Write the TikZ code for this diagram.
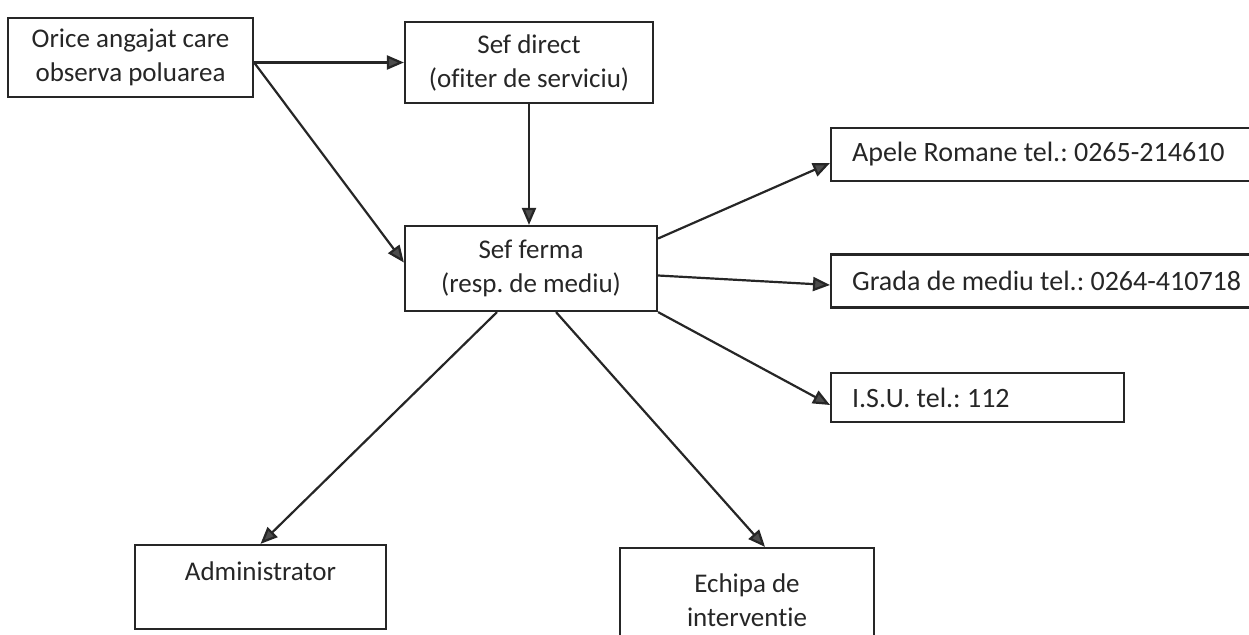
\documentclass[tikz,border=0pt]{standalone}
\usepackage{fontspec}
\setmainfont{Carlito}[Ligatures={NoCommon}]
\usetikzlibrary{arrows.meta}
\newcommand{\telline}[2]{\makebox[#1][l]{#2}}
\begin{document}
\frenchspacing
\begin{tikzpicture}[x=1pt,y=-1pt,
  box/.style={draw=black!85, line width=2.2pt, inner sep=0pt, align=center,
    font=\fontsize{27}{34}\selectfont, text=black!85},
  telbox/.style={box, anchor=west, inner xsep=21pt, minimum height=53pt,
    font=\fontsize{28}{34}\selectfont},
  arr/.style={draw=black!85, line width=2.2pt, -{Triangle[length=17pt,width=14pt,fill=black!70]}}]
\useasboundingbox (0,0) rectangle (1249,634);
\clip (0,0) rectangle (1249,634);
\node[box, minimum width=245pt, minimum height=79pt] (b1) at (130.5,57.5) {Orice angajat care\\observa poluarea};
\node[box, minimum width=248pt, minimum height=81pt] (b2) at (529,62.5) {Sef direct\\(ofiter de serviciu)};
\node[box, minimum width=252pt, minimum height=85pt] (b3) at (531,268.5) {Sef ferma\\(resp. de mediu)};
\node[telbox] (ap) at (830,154.5) {\telline{400pt}{Apele Romane tel.: 0265-214610}};
\node[telbox] (gr) at (830,281) {\telline{400pt}{Grada de mediu tel.: 0264-410718}};
\node[telbox, minimum height=49pt] (isu) at (830,397.5) {\telline{251pt}{I.S.U. tel.: 112}};
\node[box, minimum width=251pt, minimum height=84pt] (adm) at (260.5,587) {Administrator\\[-12pt]\strut};
\node[box, minimum width=254pt, minimum height=104pt] (ech) at (747,600) {Echipa de\\interventie};
\draw[arr] (b1.east |- b2.west) -- (b2.west);
\draw[arr] (b1.east |- b2.west) -- ([yshift=6pt]b3.west);
\draw[arr] (b2.south) -- (b2.south |- b3.north);
\draw[arr] ([yshift=30pt]b3.east) -- ([yshift=-8.5pt]ap.west);
\draw[arr] ([yshift=-7pt]b3.east) -- ([yshift=-4pt]gr.west);
\draw[arr] (b3.south east) -- ([yshift=-7.5pt]isu.west);
\draw[arr] ([xshift=-34pt]b3.south) -- (adm.north);
\draw[arr] ([xshift=25pt]b3.south) -- ([xshift=18pt]ech.north);
\end{tikzpicture}
\end{document}
